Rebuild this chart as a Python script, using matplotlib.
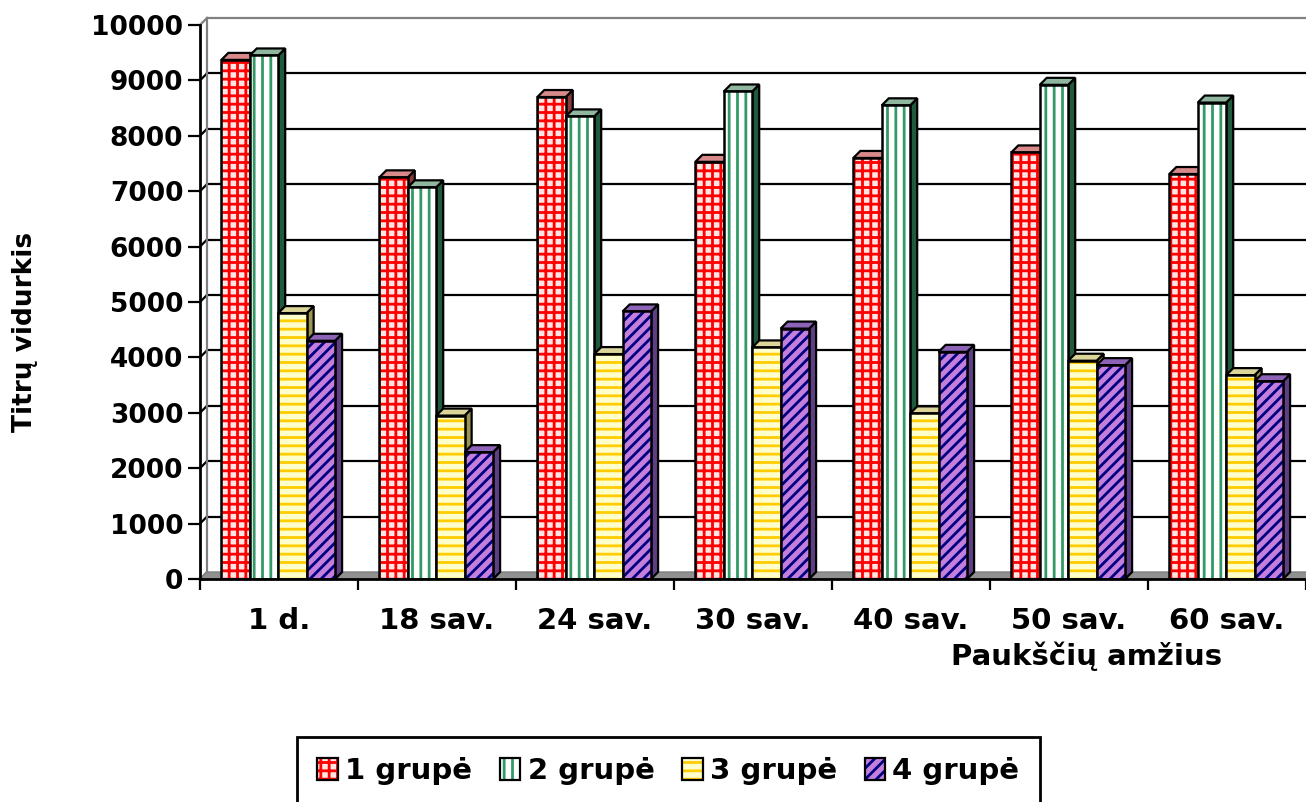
import numpy as np
import matplotlib
matplotlib.use("Agg")
import matplotlib.pyplot as plt
from matplotlib.patches import Polygon, Patch

plt.rcParams['font.family'] = ['DejaVu Sans']
plt.rcParams['font.weight'] = 'bold'
plt.rcParams['hatch.linewidth'] = 2.0

categories = ['1 d.', '18 sav.', '24 sav.', '30 sav.', '40 sav.', '50 sav.', '60 sav.']
groups = ['1 grupė', '2 grupė', '3 grupė', '4 grupė']

grupe1 = [9370, 7250, 8700, 7530, 7600, 7700, 7310]
grupe2 = [9450, 7070, 8350, 8800, 8550, 8920, 8600]
grupe3 = [4800, 2950, 4060, 4180, 2990, 3940, 3680]
grupe4 = [4300, 2290, 4830, 4520, 4100, 3860, 3570]
series = [grupe1, grupe2, grupe3, grupe4]

# stiliai: priekis, raštas, rašto spalva, šonas, viršus
faces = ['#ffe4e4', 'white', '#ffffcc', '#c47fdc']
hatches = ['++', '||', '--', '///']
hatch_colors = ['#ff0000', '#339966', '#ffcc00', '#000080']
side_colors = ['#8a3a3a', '#1f5a3c', '#9c9650', '#5e3f86']
top_colors = ['#d88a8a', '#8fb7a0', '#dcd59a', '#8d63b8']

W, H = 13.06, 8.02
fig = plt.figure(figsize=(W, H), dpi=100)
ax_l, ax_b, ax_w, ax_h = 200 / 1306, 1 - 579 / 802, 1106 / 1306, 554 / 802
ax = fig.add_axes([ax_l, ax_b, ax_w, ax_h])

n = len(categories)
ymax = 10000
ax.set_xlim(0, n)
ax.set_ylim(0, ymax)

# 3D gylis pikseliais -> duomenų vienetai
depth_px = 7
dx = depth_px / (ax_w * W * 100 / n)
dy = depth_px / (ax_h * H * 100 / ymax)

bar_w = 0.18
start = 0.135

# grindys
floor = Polygon([(0, 0), (n, 0), (n + dx, dy), (dx, dy)], closed=True,
                facecolor='#909090', edgecolor='#808080', lw=1, zorder=1, clip_on=False)
ax.add_patch(floor)

# galinė siena ir tinklelis
for v in range(1000, ymax + 1, 1000):
    col = '#808080' if v == ymax else 'black'
    ax.plot([dx, n + dx], [v + dy, v + dy], color=col, lw=1.6, zorder=0.5, clip_on=False)
    ax.plot([0, dx], [v, v + dy], color=col, lw=1.6, zorder=0.5, clip_on=False)
ax.plot([dx, dx], [dy, ymax + dy], color='#808080', lw=1.6, zorder=0.6, clip_on=False)
ax.plot([0, dx], [0, dy], color='#808080', lw=1.6, zorder=0.6, clip_on=False)

x = np.arange(n)
for i, vals in enumerate(series):
    left = x + start + i * bar_w
    z = 3 + i
    ax.bar(left, vals, width=bar_w, align='edge', color=faces[i], edgecolor='none', zorder=z)
    ax.bar(left, vals, width=bar_w, align='edge', fill=False, hatch=hatches[i],
           edgecolor=hatch_colors[i], linewidth=0, zorder=z + 0.1)
    ax.bar(left, vals, width=bar_w, align='edge', fill=False, edgecolor='black',
           linewidth=1.8, zorder=z + 0.2)
    for l, h in zip(left, vals):
        r = l + bar_w
        side = Polygon([(r, 0), (r + dx, dy), (r + dx, h + dy), (r, h)], closed=True,
                       facecolor=side_colors[i], edgecolor='black', lw=1.6, zorder=z - 0.2)
        top = Polygon([(l, h), (r, h), (r + dx, h + dy), (l + dx, h + dy)], closed=True,
                      facecolor=top_colors[i], edgecolor='black', lw=1.6, zorder=z - 0.1,
                      clip_on=False)
        ax.add_patch(side)
        ax.add_patch(top)

for s in ['top', 'right']:
    ax.spines[s].set_visible(False)
for s in ['left', 'bottom']:
    ax.spines[s].set_linewidth(2)
    ax.spines[s].set_zorder(10)

ax.set_yticks(range(0, ymax + 1, 1000))
ax.tick_params(axis='y', direction='out', length=9, width=1.6, pad=3, labelsize=19)
ax.set_xticks(range(0, n + 1))
ax.set_xticklabels([])
ax.tick_params(axis='x', which='major', direction='out', length=8, width=1.6)
ax.set_xticks(x + 0.5, minor=True)
ax.set_xticklabels(categories, minor=True)
ax.tick_params(axis='x', which='minor', length=0, pad=20, labelsize=21)

fig.text(25 / 1306, 1 - 332 / 802, 'Titrų vidurkis', rotation=90, ha='center', va='center',
         fontsize=19, fontweight='bold')
fig.text(1087 / 1306, 1 - 656 / 802, 'Paukščių amžius', ha='center', va='center',
         fontsize=21, fontweight='bold')

handles = []
for i in range(4):
    handles.append((Patch(facecolor=faces[i], edgecolor='none'),
                    Patch(fill=False, hatch=hatches[i], edgecolor=hatch_colors[i], lw=0),
                    Patch(fill=False, edgecolor='black', lw=1.6)))
leg = fig.legend(handles, groups, loc='upper left', bbox_to_anchor=(297 / 1306, 1 - 737 / 802),
                 ncol=4, fontsize=21, frameon=True, fancybox=False, edgecolor='black',
                 framealpha=1, handlelength=0.7, handleheight=0.8, handletextpad=0.25,
                 columnspacing=0.95, borderpad=0.7, borderaxespad=0)
leg.get_frame().set_linewidth(2)

fig.savefig('out.png', dpi=100)
